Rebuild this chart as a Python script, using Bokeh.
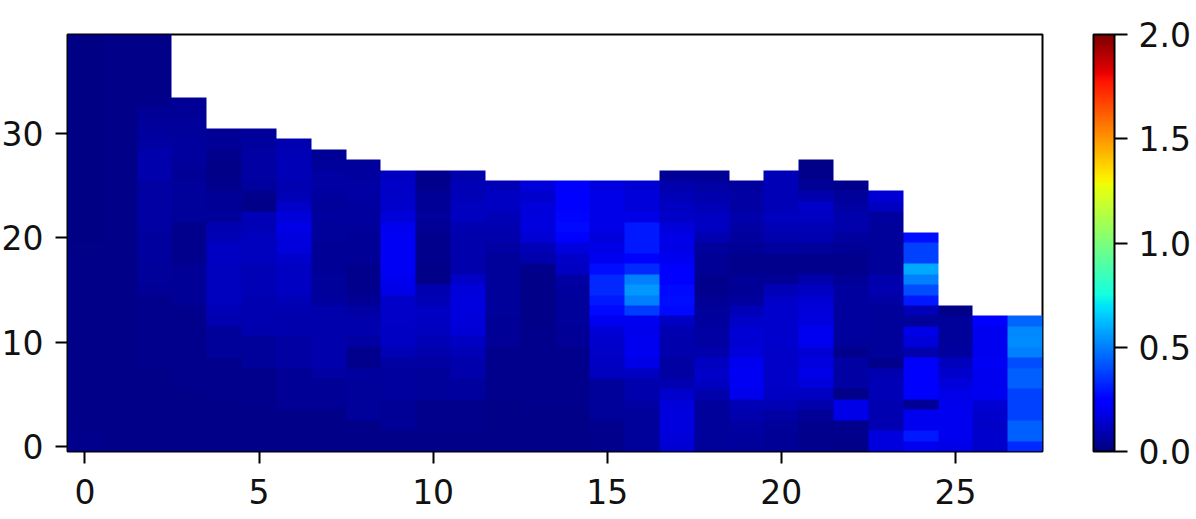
import numpy as np
from bokeh.plotting import figure
from bokeh.models import LinearColorMapper, ColorBar, FixedTicker, PrintfTickFormatter
from bokeh.embed import file_html
from bokeh.resources import INLINE

# Heat values per column, bottom row first (cells above the list are empty)
col_00 = [.03,.03]+[.02]*18+[.01]*20
col_01 = [.02]*20+[.02]*20
col_02 = [.02]*8+[.03]*7+[.04,.05,.05,.06,.06,.06,.07,.07,.07,.07,.07,.08,.08,.08,.07,.06,.05,.04,.03,.02,.02,.02,.02,.02,.02]
col_03 = [.02]*6+[.03]*8+[.04]*4+[.03]*4+[.05,.05,.05,.05,.04,.05,.06,.06,.05,.05,.04,.04]
col_04 = [.02]*5+[.03]*4+[.05]*3+[.09,.1,.11,.11,.11,.11,.12,.12,.1,.09,.05,.04,.04,.03,.02,.02,.03,.04,.04]
col_05 = [.02]*4+[.03]*4+[.05]*3+[.08,.09,.09,.09,.1,.1,.1,.11,.11,.11,.1,.1,.02,.03,.06,.07,.07,.07,.06,.05]
col_06 = [.02]*4+[.04]*4+[.07]*3+[.08,.08,.09,.1,.12,.12,.12,.14,.16,.17,.18,.16,.13,.1,.09,.1,.1,.1,.09]
col_07 = [.02]*4+[.04]*3+[.07,.08,.08,.08,.08,.08,.08,.06,.05,.05,.04,.04,.04,.05,.05,.06,.05,.06,.07,.07,.05,.04]
col_08 = [.02]*3+[.05]*4+[.06,.03,.03,.07,.08,.08,.07,.04,.03,.03,.03,.04,.04,.04,.05,.06,.06,.07,.07,.06,.05]
col_09 = [.02]*2+[.04]*3+[.06]*3+[.07,.1,.12,.12,.13,.13,.13,.18,.2,.21,.21,.21,.21,.2,.16,.14,.13,.13,.12]
col_10 = [.02]*2+[.03]*3+[.05]*3+[.07,.08,.1,.11,.12,.12,.1,.09,.02,.02,.03,.03,.03,.04,.05,.04,.04,.03,.03]
col_11 = [.02]*2+[.03]*3+[.06]*2+[.08,.08,.1,.12,.15,.16,.17,.17,.16,.13,.08,.08,.08,.08,.09,.11,.11,.1,.1,.08]
col_12 = [.02]*5+[.03]*5+[.04,.04,.04,.05,.05,.05,.05,.05,.05,.07,.08,.09,.1,.12,.12,.1]
col_13 = [.02]*4+[.03]*8+[.02,.02,.02,.02,.02,.03,.08,.1,.15,.17,.17,.16,.14,.16]
col_14 = [.02]*4+[.03]*6+[.04,.04,.05,.05,.05,.06,.07,.12,.13,.17,.25,.27,.26,.24,.24,.22]
col_15 = [.03]*3+[.05]*4+[.11,.12,.13,.14,.15,.2,.27,.3,.33,.33,.28,.2,.18,.16,.18,.18,.18,.18,.17]
col_16 = [.05]*4+[.07,.08,.08,.12,.18,.2,.2,.19,.2,.37,.5,.55,.5,.33,.24,.3,.3,.3,.18,.16,.16,.15]
col_17 = [.15,.16,.17,.17,.16,.14,.09,.07,.07,.08,.08,.09,.12,.27,.28,.27,.22,.22,.2,.18,.18,.16,.13,.12,.1,.08,.04]
col_18 = [.05,.05,.05,.05,.06,.08,.12,.13,.12,.08,.07,.07,.06,.05,.04,.03,.03,.04,.04,.05,.09,.12,.12,.1,.08,.07,.04]
col_19 = [.05,.06,.07,.08,.1,.19,.21,.21,.2,.16,.15,.15,.13,.1,.06,.04,.04,.03,.03,.04,.06,.07,.08,.07,.07,.06]
col_20 = [.04,.04,.05,.07,.1,.12,.13,.13,.13,.13,.14,.14,.14,.14,.13,.1,.04,.03,.03,.06,.08,.1,.11,.1,.1,.1,.1]
col_21 = [.03,.03,.03,.04,.08,.12,.16,.18,.17,.15,.2,.2,.17,.16,.15,.12,.08,.03,.03,.05,.09,.1,.12,.13,.08,.04,.03,.02]
col_22 = [.02,.03,.03,.18,.18,.02,.07,.07,.07,.03,.05,.06,.06,.06,.06,.06,.04,.03,.03,.04,.06,.08,.08,.07,.05,.03]
col_23 = [.17,.17,.09,.09,.09,.1,.1,.09,.03,.05,.05,.05,.05,.05,.07,.09,.08,.05,.05,.05,.05,.05,.06,.12,.15]
col_24 = [.2,.3,.2,.2,.04,.23,.23,.24,.23,.08,.16,.18,.05,.1,.3,.4,.5,.58,.38,.38,.28]
col_25 = [.18,.2,.2,.2,.19,.18,.16,.14,.11,.06,.05,.05,.05,.02]
col_26 = [.14,.14,.13,.14,.15,.2,.2,.2,.21,.2,.2,.2,.25]
col_27 = [.33,.44,.44,.38,.38,.38,.44,.44,.4,.5,.53,.52,.45]

columns = [col_00,col_01,col_02,col_03,col_04,col_05,col_06,col_07,col_08,col_09,
           col_10,col_11,col_12,col_13,col_14,col_15,col_16,col_17,col_18,col_19,
           col_20,col_21,col_22,col_23,col_24,col_25,col_26,col_27]
x_ticks = [0, 5, 10, 15, 20, 25]
y_ticks = [0, 10, 20, 30]
bar_ticks = [0, 0.5, 1.0, 1.5, 2.0]

nrows, ncols = 40, len(columns)
grid = np.full((nrows, ncols), np.nan)
for j, c in enumerate(columns):
    grid[:len(c), j] = c

# matplotlib-style jet colormap
def jet(f):
    r = np.interp(f, [0, .35, .66, .89, 1], [0, 0, 1, 1, .5])
    g = np.interp(f, [0, .125, .375, .64, .91, 1], [0, 0, 1, 1, 0, 0])
    b = np.interp(f, [0, .11, .34, .65, 1], [.5, 1, 1, 0, 0])
    return "#%02x%02x%02x" % (int(r*255), int(g*255), int(b*255))
jet256 = [jet(i/255) for i in range(256)]

mapper = LinearColorMapper(palette=jet256, low=0, high=2, nan_color=(0, 0, 0, 0))

FONT = "DejaVu Sans"
SIZE = "33px"
W, H = 1198, 519
L, R, T, B = 69, 1044, 34, 451

p = figure(width=W, height=H, output_backend="svg", toolbar_location=None,
           x_range=(-0.5, 27.5), y_range=(-0.5, 39.5),
           min_border_left=L, min_border_right=W-R, min_border_top=T, min_border_bottom=H-B,
           margin=(0, 0, 0, -2), title=None)
p.image(image=[grid], x=-0.5, y=-0.5, dw=28, dh=40, color_mapper=mapper)

p.grid.visible = False
p.outline_line_color = "black"
p.outline_line_width = 2
p.background_fill_color = "white"
p.border_fill_color = "white"
for ax, ticks in ((p.xaxis[0], x_ticks), (p.yaxis[0], y_ticks)):
    ax.ticker = FixedTicker(ticks=ticks)
    ax.axis_line_color = None
    ax.major_tick_line_color = "black"
    ax.major_tick_line_width = 2
    ax.major_tick_out = 12
    ax.major_tick_in = 0
    ax.minor_tick_line_color = None
    ax.major_label_text_font = FONT
    ax.major_label_text_font_size = SIZE
    ax.major_label_text_color = "#111111"
    ax.major_label_standoff = 12
p.xaxis[0].major_label_standoff = 15
p.yaxis[0].major_label_orientation = "horizontal"

cb = ColorBar(color_mapper=mapper, width=21, height=B-T, location=(1026, 0), padding=0, margin=0,
              ticker=FixedTicker(ticks=bar_ticks), formatter=PrintfTickFormatter(format="%.1f"),
              major_tick_in=0, major_tick_out=13, major_tick_line_color="black", major_tick_line_width=2,
              bar_line_color="black", bar_line_width=2, minor_tick_line_color=None,
              major_label_text_font=FONT, major_label_text_font_size=SIZE,
              major_label_text_color="#111111", label_standoff=11,
              background_fill_color=None, border_line_color=None)
p.add_layout(cb, "center")

open("out.html", "w").write(file_html(p, INLINE))
